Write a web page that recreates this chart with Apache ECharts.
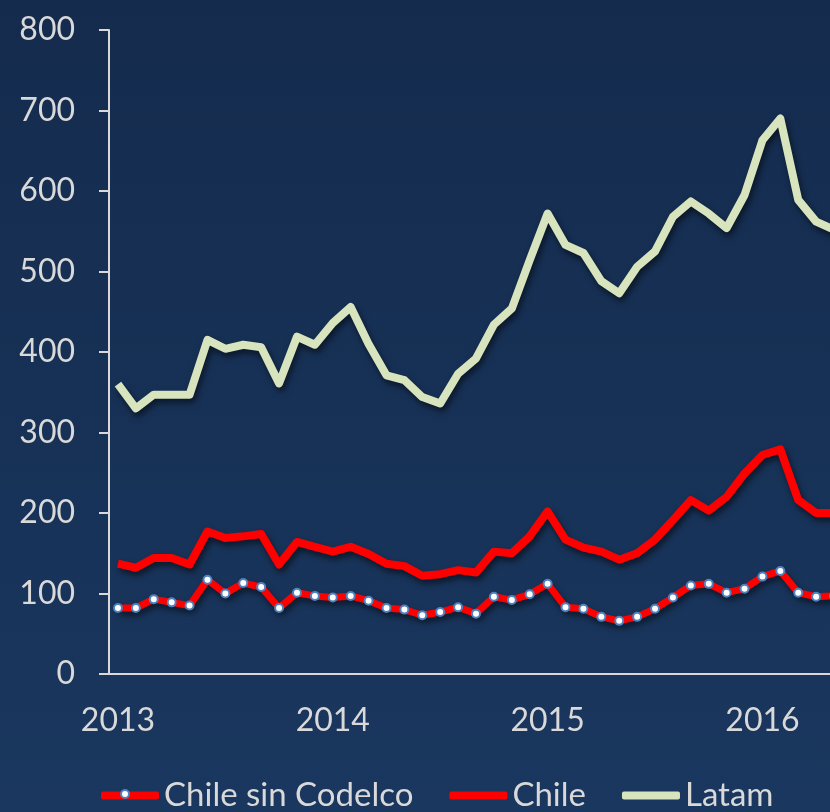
<!DOCTYPE html>
<html>
<head>
<meta charset="utf-8">
<script src="https://cdn.jsdelivr.net/npm/echarts@6/dist/echarts.min.js"></script>
<style>
  html, body { margin: 0; padding: 0; background: #173258; }
  #chart { width: 830px; height: 812px; }
</style>
</head>
<body>
<div id="chart"></div>
<script>
// años visibles en el eje, 12 meses cada uno (el gráfico llega hasta may-2016)
const years = ['2013', '2014', '2015', '2016'];
const monthsShown = 41;

const latam = [360, 330, 347, 347, 347, 415, 404, 409, 406, 361, 419, 409,
    436, 456, 410, 371, 365, 344, 336, 373, 392, 434, 454, 514,
    572, 533, 523, 488, 473, 506, 525, 568, 587, 572, 554, 595,
    663, 690, 589, 562, 552];
const chile = [137, 132, 144, 144, 136, 177, 169, 171, 174, 136, 164, 158,
    152, 158, 149, 137, 134, 122, 124, 129, 126, 152, 150, 171,
    202, 167, 157, 152, 142, 150, 167, 191, 216, 203, 220, 249,
    272, 279, 216, 200, 200];
const chileSinCodelco = [82, 82, 93, 89, 85, 117, 100, 113, 108, 82, 101, 97,
    95, 97, 91, 82, 80, 73, 77, 83, 75, 96, 92, 99,
    112, 83, 81, 71, 66, 71, 81, 95, 110, 112, 101, 106,
    121, 128, 101, 96, 97];

const categories = [];
years.forEach((y) => {
    for (let m = 1; m <= 12; m++) categories.push(y + '-' + String(m).padStart(2, '0'));
});
const cats = categories.slice(0, monthsShown);

const TEXT = '#d9d9d9';
const FONT = 'Lato';
const RED = '#ff0000';
const GREEN = '#d7e4bd';
const shadow = {
    shadowColor: 'rgba(0, 0, 0, 0.55)',
    shadowBlur: 6,
    shadowOffsetX: 2,
    shadowOffsetY: 4,
};

const chart = echarts.init(document.getElementById('chart'), null, { renderer: 'canvas' });

chart.setOption({
    animation: false,
    backgroundColor: {
        type: 'linear', x: 0, y: 0, x2: 0, y2: 1,
        colorStops: [
            { offset: 0, color: '#142b4d' },
            { offset: 1, color: '#1a375f' },
        ],
    },
    grid: { left: 109, right: -13, top: 30, bottom: 138, containLabel: false, outerBoundsMode: 'none' },
    legend: {
        left: 96,
        top: 774,
        itemWidth: 58,
        itemHeight: 8,
        itemGap: 36,
        data: [
            { name: 'Chile sin Codelco', icon: 'roundRect', itemStyle: { color: RED, borderWidth: 0 } },
            { name: 'Chile', icon: 'roundRect', itemStyle: { color: RED, borderWidth: 0 } },
            { name: 'Latam', icon: 'roundRect', itemStyle: { color: GREEN, borderWidth: 0 } },
        ],
        textStyle: { color: TEXT, fontSize: 33, fontFamily: FONT },
    },
    // marcador en el centro del icono de la leyenda "Chile sin Codelco"
    graphic: [{
        type: 'circle',
        left: 120,
        top: 789,
        shape: { r: 4 },
        style: { fill: '#ffffff', stroke: '#4f81bd', lineWidth: 2 },
        z: 100,
    }],
    xAxis: {
        type: 'category',
        data: cats,
        boundaryGap: true,
        axisLine: { lineStyle: { color: TEXT, width: 2 } },
        axisTick: { interval: 11, length: 10, lineStyle: { color: TEXT, width: 2 } },
        axisLabel: {
            interval: 11,
            margin: 31,
            color: TEXT,
            fontSize: 32,
            fontFamily: FONT,
            formatter: (v) => v.slice(0, 4),
        },
        splitLine: { show: false },
    },
    yAxis: {
        type: 'value',
        min: 0,
        max: 800,
        interval: 100,
        axisLine: { show: true, lineStyle: { color: TEXT, width: 2 } },
        axisTick: { show: true, length: 10, lineStyle: { color: TEXT, width: 2 } },
        axisLabel: { margin: 34, color: TEXT, fontSize: 32, fontFamily: FONT },
        splitLine: { show: false },
    },
    series: [
        {
            name: 'Latam',
            type: 'line',
            data: latam,
            symbol: 'none',
            color: GREEN,
            lineStyle: Object.assign({ color: GREEN, width: 8, join: 'round' }, shadow),
            z: 2,
        },
        {
            name: 'Chile',
            type: 'line',
            data: chile,
            symbol: 'none',
            color: RED,
            lineStyle: Object.assign({ color: RED, width: 8, join: 'round' }, shadow),
            z: 3,
        },
        {
            name: 'Chile sin Codelco',
            type: 'line',
            data: chileSinCodelco,
            symbol: 'circle',
            symbolSize: 8,
            showAllSymbol: true,
            color: RED,
            itemStyle: { color: '#ffffff', borderColor: '#4f81bd', borderWidth: 2 },
            lineStyle: Object.assign({ color: RED, width: 7, join: 'round' }, shadow),
            z: 4,
        },
    ],
});
</script>
</body>
</html>
